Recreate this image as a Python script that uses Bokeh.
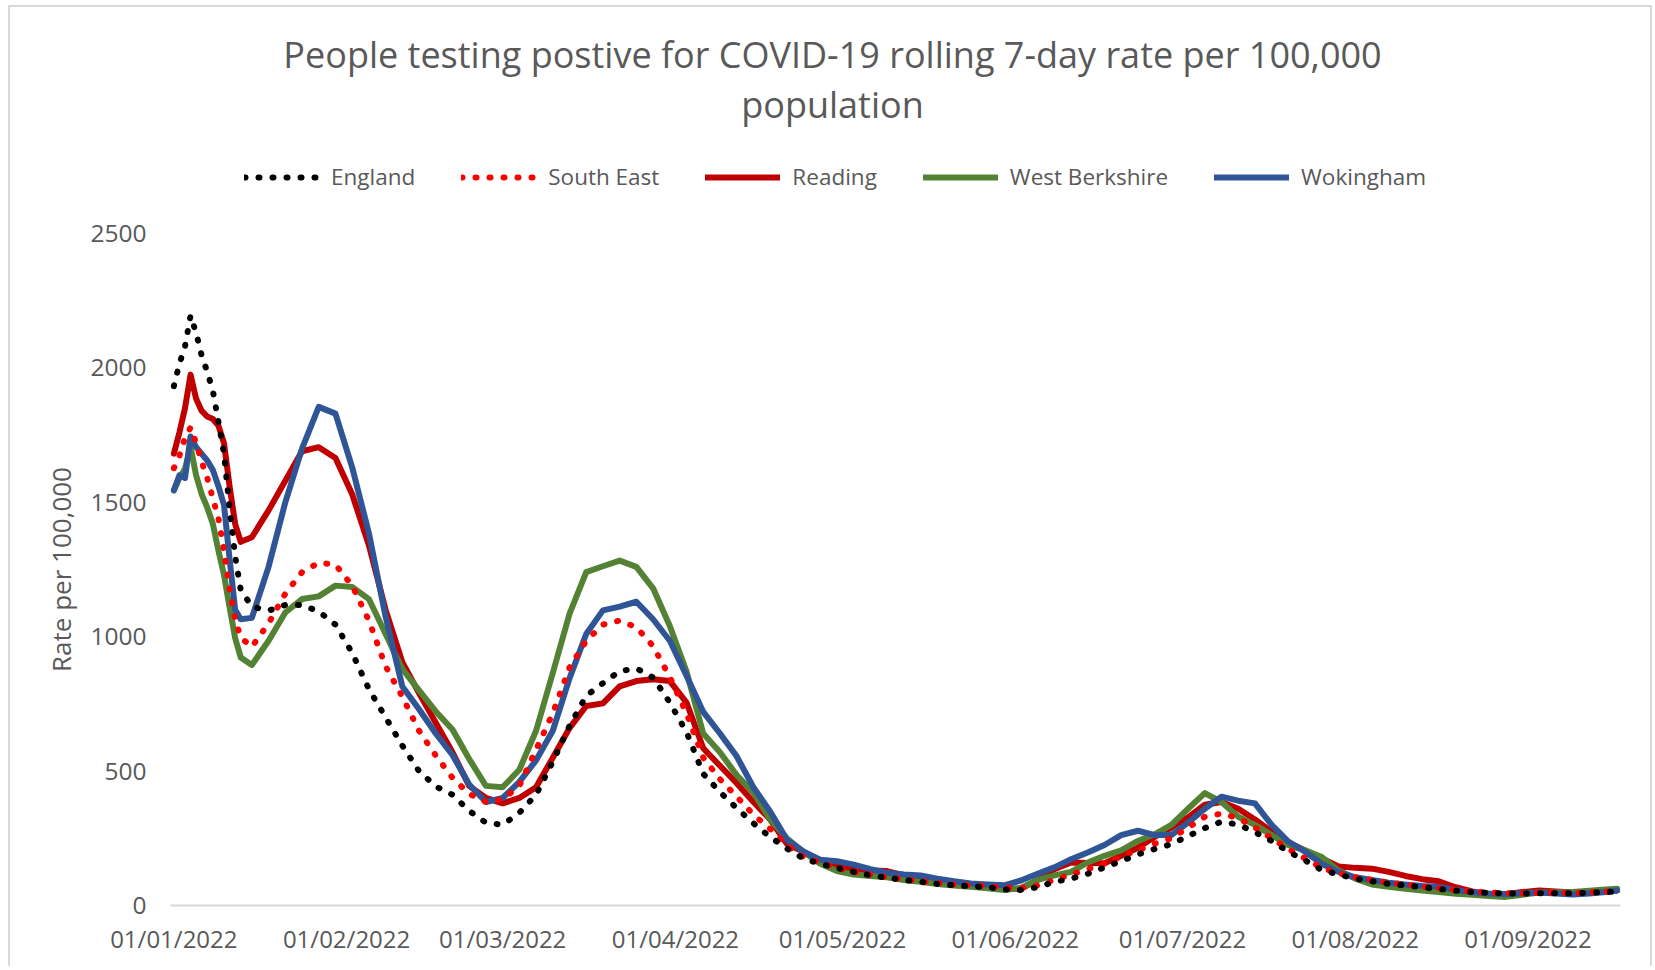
from bokeh.plotting import figure
from bokeh.models import Range1d, FixedTicker, Legend, LegendItem, Label
from bokeh.layouts import column
from bokeh.embed import file_html
from bokeh.resources import INLINE

# days since 01/01/2022
DAYS = [0, 1, 2, 3, 4, 5, 6, 7, 8, 9, 10, 11, 12,
        14, 17, 20, 23, 26, 29, 32, 35, 38, 41, 44, 47, 50, 53, 56, 59, 62, 65, 68, 71,
        74, 77, 80, 83, 86, 89, 92, 95, 98, 101, 104, 107, 110, 113,
        116, 119, 122, 125, 128, 131, 134, 137, 140, 143, 146, 149, 152, 155, 158, 161,
        164, 167, 170, 173, 176, 179, 182, 185, 188, 191, 194, 197, 200, 203, 206, 209,
        212, 215, 218, 221, 224, 227, 230, 233, 236, 239, 242, 245, 248, 251, 254, 257,
        259]

TICK_DAYS = [0, 31, 59, 90, 120, 151, 181, 212, 243]
TICK_LABELS = ["01/01/2022", "01/02/2022", "01/03/2022", "01/04/2022", "01/05/2022",
               "01/06/2022", "01/07/2022", "01/08/2022", "01/09/2022"]
Y_TICKS = [0, 500, 1000, 1500, 2000, 2500]

ENGLAND = [1932, 2015, 2080, 2195, 2130, 2045, 1985, 1915, 1800, 1680, 1480, 1300, 1175,
           1112, 1097, 1118, 1118, 1094, 1045, 940, 805, 700, 595,
           500, 443, 412, 352, 308, 300, 345, 412, 535, 668,
           780, 827, 872, 882, 848, 755, 645, 490, 422, 362,
           306, 255, 212, 175,
           155, 140, 125, 112, 103, 95, 88, 80, 75, 72,
           68, 60, 58, 68, 88, 100, 118, 142, 165, 190,
           210, 228, 258, 288, 312, 301, 273, 240, 200, 168,
           132, 115, 100, 90, 80, 75, 68, 62, 55, 50,
           47, 45, 44, 46, 46, 45, 48, 50,
           52]

SOUTH_EAST = [1627, 1673, 1740, 1778, 1720, 1650, 1590, 1515, 1440, 1320, 1180, 1065, 997,
              962, 1050, 1160, 1240, 1275, 1268, 1190, 1060, 890, 777,
              650, 558, 475, 415, 385, 395, 445, 580, 715, 885,
              985, 1045, 1060, 1035, 965, 850, 715, 550, 470, 405,
              338, 285, 225, 180,
              160, 140, 125, 115, 105, 98, 90, 83, 78, 75,
              72, 66, 65, 75, 95, 115, 135, 155, 182, 205,
              230, 250, 290, 330, 342, 325, 290, 250, 210, 175,
              140, 120, 105, 95, 85, 78, 70, 65, 58, 52,
              48, 46, 45, 47, 48, 46, 49, 52,
              54]

READING = [1681, 1760, 1850, 1975, 1885, 1840, 1819, 1810, 1785, 1720, 1560, 1420, 1353,
           1370, 1470, 1580, 1690, 1705, 1665, 1530, 1340, 1100, 905,
           790, 680, 570, 445, 400, 380, 400, 440, 550, 660,
           742, 752, 815, 835, 842, 835, 755, 585, 520, 455,
           385, 320, 230, 200,
           167, 148, 135, 130, 128, 112, 100, 90, 80, 72,
           68, 62, 62, 95, 135, 160, 158, 157, 185, 215,
           255, 290, 328, 375, 385, 360, 320, 275, 235, 205,
           175, 145, 140, 137, 125, 110, 98, 90, 68, 52,
           40, 42, 50, 56, 52, 48, 50, 53,
           56]

WEST_BERKSHIRE = [1544, 1590, 1625, 1705, 1600, 1530, 1480, 1420, 1320, 1230, 1110, 995, 923,
                  895, 985, 1090, 1140, 1150, 1190, 1185, 1140, 1010, 880,
                  800, 722, 655, 545, 445, 440, 505, 650, 865, 1085,
                  1240, 1262, 1283, 1260, 1180, 1040, 870, 640, 570, 485,
                  420, 320, 250, 200,
                  155, 128, 115, 110, 105, 95, 88, 80, 74, 70,
                  64, 58, 65, 95, 112, 125, 160, 185, 205, 240,
                  265, 300, 360, 418, 385, 330, 300, 262, 225, 205,
                  180, 130, 100, 78, 70, 62, 56, 50, 44, 40,
                  35, 32, 40, 48, 48, 50, 55, 60,
                  62]

WOKINGHAM = [1545, 1600, 1590, 1745, 1705, 1680, 1655, 1620, 1560, 1490, 1290, 1100, 1065,
             1070, 1260, 1500, 1700, 1855, 1830, 1630, 1385, 1075, 815,
             730, 640, 560, 450, 385, 400, 460, 540, 650, 845,
             1010, 1098, 1112, 1130, 1065, 985, 855, 720, 640, 555,
             440, 350, 245, 200,
             170, 165, 152, 135, 122, 115, 112, 100, 90, 82,
             78, 75, 93, 118, 142, 172, 197, 225, 262, 278,
             262, 262, 308, 360, 405, 390, 380, 300, 238, 200,
             155, 125, 105, 95, 85, 78, 73, 70, 58, 49,
             45, 43, 46, 48, 45, 41, 45, 50,
             56]

SERIES = ["England", "South East", "Reading", "West Berkshire", "Wokingham"]
COLORS = {"England": "#000000", "South East": "#FF0000", "Reading": "#C00000",
          "West Berkshire": "#548235", "Wokingham": "#2F5597"}
DOTTED = {"England", "South East"}

TITLE_1 = "People testing postive for COVID-19 rolling 7-day rate per 100,000"
TITLE_2 = "population"

TEXT = "#595959"
FONT = "Open Sans"
W = 1652
TOP_H = 213
FRAME_L = 170
FRAME_R = 1620
NAN = float("nan")


def line_style(name):
    st = dict(line_color=COLORS[name], line_width=6, line_cap="round", line_join="round")
    if name in DOTTED:
        st["line_dash"] = "1 13"
    return st


# ---------- header (title + legend) ----------
head = figure(width=W, height=TOP_H, output_backend="svg", toolbar_location=None,
              x_range=Range1d(0, 1), y_range=Range1d(0, 1),
              x_axis_location=None, y_axis_location=None,
              min_border_left=FRAME_L, min_border_right=W - FRAME_R,
              min_border_top=0, min_border_bottom=0)
head.outline_line_color = None
head.grid.visible = False
head.border_fill_color = None
head.background_fill_color = None

# positions in screen px relative to the frame's bottom-left corner
head.add_layout(Label(x=832 - FRAME_L, y=TOP_H - 54, x_units="screen", y_units="screen",
                      text=TITLE_1, text_align="center", text_baseline="alphabetic",
                      text_font=FONT, text_font_size="36px", text_color=TEXT))
head.add_layout(Label(x=832 - FRAME_L, y=TOP_H - 104, x_units="screen", y_units="screen",
                      text=TITLE_2, text_align="center", text_baseline="alphabetic",
                      text_font=FONT, text_font_size="36px", text_color=TEXT))

items = []
for name in SERIES:
    r = head.line([0], [NAN], **line_style(name))
    items.append(LegendItem(label=name, renderers=[r]))

legend = Legend(items=items, orientation="horizontal", location=(244 - FRAME_L, 21),
                glyph_width=75, glyph_height=30, label_height=30,
                label_standoff=12, spacing=46, padding=0, margin=0,
                border_line_color=None, background_fill_alpha=0,
                label_text_font=FONT, label_text_font_size="22.5px",
                label_text_color=TEXT)
head.add_layout(legend)

# ---------- chart ----------
p = figure(width=W, height=753, output_backend="svg", toolbar_location=None,
           x_range=Range1d(-0.6, 259.6), y_range=Range1d(0, 2500),
           min_border_left=FRAME_L, min_border_right=W - FRAME_R, min_border_top=20,
           min_border_bottom=61)
p.xgrid.visible = False
p.ygrid.visible = False
p.outline_line_color = None
p.border_fill_color = None
p.background_fill_color = None

data = {"England": ENGLAND, "South East": SOUTH_EAST, "Reading": READING,
        "West Berkshire": WEST_BERKSHIRE, "Wokingham": WOKINGHAM}
for name in ["Reading", "West Berkshire", "Wokingham", "South East", "England"]:
    p.line(DAYS, data[name], **line_style(name))

xa = p.xaxis[0]
xa.ticker = FixedTicker(ticks=TICK_DAYS)
xa.major_label_overrides = {d: lab for d, lab in zip(TICK_DAYS, TICK_LABELS)}
xa.axis_line_color = "#D9D9D9"
xa.axis_line_width = 2
xa.major_tick_line_color = None
xa.minor_tick_line_color = None
xa.major_tick_out = 0
xa.major_tick_in = 0
xa.major_label_standoff = 16
xa.major_label_text_font = FONT
xa.major_label_text_font_size = "24px"
xa.major_label_text_color = TEXT

ya = p.yaxis[0]
ya.ticker = FixedTicker(ticks=Y_TICKS)
ya.axis_line_color = None
ya.major_tick_line_color = None
ya.minor_tick_line_color = None
ya.major_tick_out = 0
ya.major_tick_in = 0
ya.major_label_standoff = 24
ya.major_label_text_font = FONT
ya.major_label_text_font_size = "24.5px"
ya.major_label_text_color = TEXT
ya.axis_label = "Rate per 100,000"
ya.axis_label_text_font = FONT
ya.axis_label_text_font_size = "26px"
ya.axis_label_text_font_style = "normal"
ya.axis_label_text_color = TEXT
ya.axis_label_standoff = 8

G = "linear-gradient(#D9D9D9, #D9D9D9)"
layout = column(head, p, spacing=0, styles={
    "background": (f"{G} 8px 5px / 2px 100% no-repeat, "
                   f"{G} 8px 5px / 1644px 2px no-repeat, "
                   f"{G} 1650px 5px / 2px 100% no-repeat, white")})

open("out.html", "w").write(file_html(layout, INLINE))
